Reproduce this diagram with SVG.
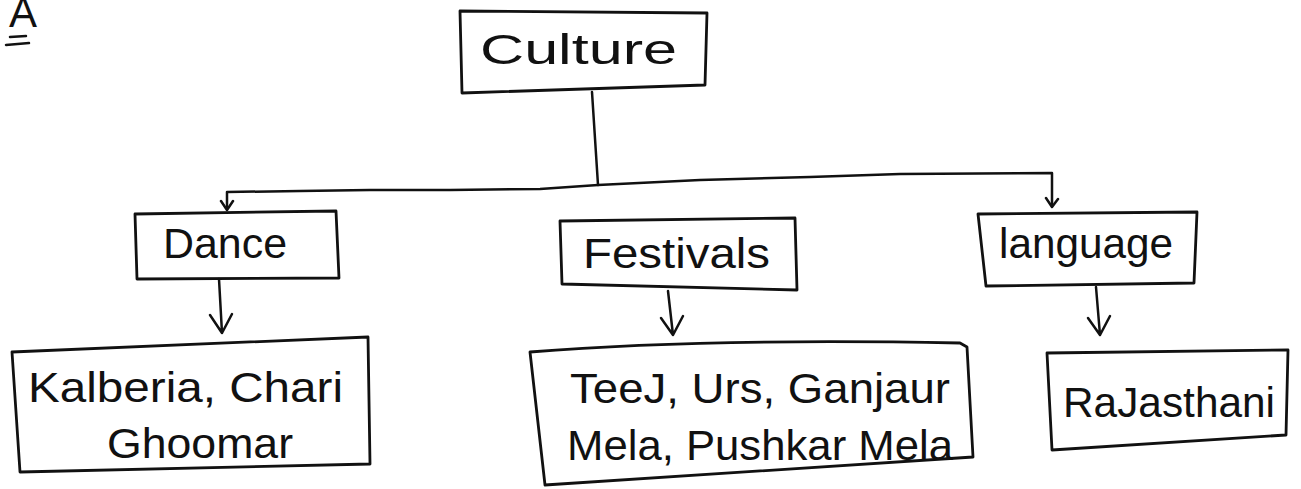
<svg xmlns="http://www.w3.org/2000/svg" width="1301" height="489" viewBox="0 0 1301 489">
<defs>
<style>
.box{fill:none;stroke:#111;stroke-width:2.8;stroke-linejoin:round;stroke-linecap:round}
.ln{fill:none;stroke:#111;stroke-width:2.5;stroke-linecap:round;stroke-linejoin:round}
.t{font-family:"Liberation Sans",Arial,sans-serif;fill:#111;font-size:42px}
</style>
</defs>
<rect width="1301" height="489" fill="#fff"/>
<g id="label-A">
<text class="t" x="9" y="27" font-size="28">A</text>
<path class="ln" d="M10 37 L26 36 M6 45 L29 43"/>
</g>
<g id="connectors">
<path class="ln" d="M592 92 L598 185"/>
<path class="ln" d="M227 208 L227 192 L300 191 L370 190 L450 190 L540 189 L598 185 L700 180 L810 177 L900 174 L1052 173 L1052 206"/>
<path class="ln" d="M221 201 L227 210 L233 201 M1046 198 L1052 207 L1058 199"/>
<path class="ln" d="M219 279 L222 333 M210 315 L222 333 L232 314"/>
<path class="ln" d="M668 291 L673 335 M661 318 L673 335 L683 316"/>
<path class="ln" d="M1096 287 L1100 335 M1088 318 L1100 335 L1110 316"/>
</g>
<g id="node-culture">
<path class="box" d="M460 11 L707 13 L705 85 L462 93 Z"/>
<text class="t" x="480" y="64" font-size="44" textLength="197" lengthAdjust="spacingAndGlyphs">Culture</text>
</g>
<g id="node-dance">
<path class="box" d="M135 214 L336 211 L339 278 L137 279 Z"/>
<text class="t" x="163" y="258" font-size="44" textLength="124" lengthAdjust="spacingAndGlyphs">Dance</text>
</g>
<g id="node-festivals">
<path class="box" d="M560 221 L795 218 L797 290 L562 284 Z"/>
<text class="t" x="583" y="268" font-size="48" textLength="187" lengthAdjust="spacingAndGlyphs">Festivals</text>
</g>
<g id="node-language">
<path class="box" d="M978 214 L1197 212 L1194 283 L986 286 Z"/>
<text class="t" x="999" y="258" font-size="46" textLength="174" lengthAdjust="spacingAndGlyphs">language</text>
</g>
<g id="node-dances">
<path class="box" d="M12 352 L368 337 L370 464 L20 472 Z"/>
<text class="t" x="28" y="402" font-size="44" textLength="315" lengthAdjust="spacingAndGlyphs">Kalberia, Chari</text>
<text class="t" x="107" y="458" font-size="44" textLength="186" lengthAdjust="spacingAndGlyphs">Ghoomar</text>
</g>
<g id="node-festival-list">
<path class="box" d="M530 352 Q700 338 960 343 L967 347 L973 457 L545 485 Z"/>
<text class="t" x="570" y="403" font-size="46" textLength="380" lengthAdjust="spacingAndGlyphs">TeeJ, Urs, Ganjaur</text>
<text class="t" x="567" y="460" font-size="46" textLength="386" lengthAdjust="spacingAndGlyphs">Mela, Pushkar Mela</text>
</g>
<g id="node-rajasthani">
<path class="box" d="M1047 353 L1288 350 L1286 435 L1052 450 Z"/>
<text class="t" x="1063" y="417" font-size="50" textLength="212" lengthAdjust="spacingAndGlyphs">RaJasthani</text>
</g>
</svg>
